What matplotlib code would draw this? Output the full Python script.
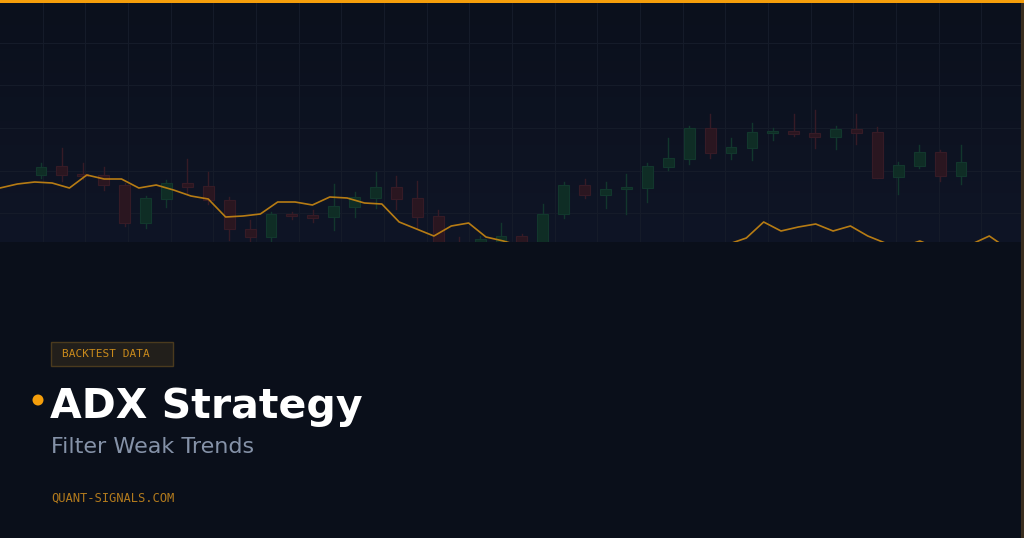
import numpy as np
import matplotlib.pyplot as plt
from matplotlib.patches import Rectangle, Ellipse
from matplotlib.colors import LinearSegmentedColormap

# Candle data (price units)
opens  = [125, 134, 126, 125, 115, 77, 101, 117, 114, 100, 71, 63, 86, 85, 83, 93, 102, 113, 102, 84,
          55, 50, 52, 64, 55, 86, 115, 105, 111, 112, 133, 141, 172, 147, 152, 167, 169, 167, 163, 171,
          168, 123, 134, 148, 124]
closes = [133, 125, 124, 115, 77, 102, 117, 113, 100, 71, 63, 86, 84, 82, 94, 103, 113, 101, 83, 50,
          40, 61, 64, 52, 86, 115, 105, 111, 113, 134, 142, 172, 147, 153, 168, 169, 166, 163, 171, 167,
          122, 135, 148, 124, 138]
highs  = [137, 152, 137, 133, 117, 104, 120, 141, 128, 103, 80, 88, 88, 90, 116, 108, 128, 124, 119, 90,
          63, 64, 77, 66, 96, 118, 121, 118, 126, 137, 162, 174, 186, 162, 177, 172, 186, 190, 174, 186,
          173, 138, 155, 150, 155]
lows   = [122, 119, 121, 110, 74, 72, 93, 107, 96, 60, 58, 59, 81, 78, 70, 83, 92, 91, 72, 45,
          35, 44, 48, 48, 50, 82, 102, 92, 86, 98, 130, 136, 142, 141, 140, 160, 164, 152, 151, 156,
          122, 106, 132, 119, 116]

# ADX-style line overlay
adx = [112, 116, 118, 117, 112, 125, 121, 121, 112, 115, 110, 104, 101, 83, 84, 86, 98, 98, 95, 103,
       102, 97, 96, 78, 71, 64, 74, 77, 63, 59, 54, 48, 42, 38, 34, 32, 35, 38, 42, 46,
       50, 53, 56, 62, 78, 69, 73, 76, 69, 74, 64, 57, 53, 59, 52, 50, 56, 64, 52, 45]

title = "ADX Strategy"
subtitle = "Filter Weak Trends"
badge = "BACKTEST DATA"
site = "QUANT-SIGNALS.COM"

W, H = 1024, 538
chart_h = 242
fig = plt.figure(figsize=(W / 100, H / 100), dpi=100)
fig.patch.set_facecolor('#0a0f1a')

def fx(px):
    return px / W

def fy(py):
    return 1 - py / H

# background gradient + grid
bg = fig.add_axes([0, fy(chart_h), 1, chart_h / H])
grad = np.linspace(0, 1, 256).reshape(-1, 1)
cmap = LinearSegmentedColormap.from_list('bgc', ['#0b101c', '#0f1526'])
bg.imshow(grad, aspect='auto', cmap=cmap, extent=[0, 24, chart_h / (W / 24), 0])
bg.set_xlim(0, 24)
bg.set_ylim(chart_h / (W / 24), 0)
for gx in range(1, 24):
    bg.axvline(gx, color='#151b29', lw=0.8)
for gy in range(1, 6):
    bg.axhline(gy, color='#151b29', lw=0.8)
bg.axis('off')

# candles
ax = fig.add_axes([0, fy(chart_h), 1, chart_h / H])
ax.patch.set_alpha(0)
step = 20.91
ax.set_xlim(-41 / step, (W - 41) / step)
ax.set_ylim(300 - chart_h, 300)
ax.axis('off')
up_col, dn_col = '#0f2d25', '#2a1620'
up_edge, dn_edge = '#12372d', '#361b26'
for i in range(len(opens)):
    o, c, h, l = opens[i], closes[i], highs[i], lows[i]
    col = up_col if c >= o else dn_col
    ecol = up_edge if c >= o else dn_edge
    ax.plot([i, i], [l, h], color=ecol, lw=1.0, zorder=2)
    ax.add_patch(Rectangle((i - 0.26, min(o, c)), 0.52, max(abs(c - o), 1.2),
                           facecolor=col, edgecolor=ecol, lw=0.8, zorder=3))

# line overlay
ax2 = fig.add_axes([0, fy(chart_h), 1, chart_h / H])
ax2.patch.set_alpha(0)
ax2.set_xlim(0, len(adx) - 1)
ax2.set_ylim(300 - chart_h, 300)
ax2.axis('off')
ax2.plot(range(len(adx)), adx, color='#c98712', lw=1.2, alpha=0.9, zorder=4)

# frame accents
fig.patches.append(Rectangle((0, fy(3)), 1, 3 / H, transform=fig.transFigure,
                             facecolor='#f59e0b', edgecolor='none', zorder=10))
fig.patches.append(Rectangle((fx(W - 3), 0), 3 / W, fy(3), transform=fig.transFigure,
                             facecolor='#3a2e1f', edgecolor='none', zorder=10))

# badge
fig.patches.append(Rectangle((fx(51), fy(366)), fx(122), 24 / H, transform=fig.transFigure,
                             facecolor='#221f1b', edgecolor='#4a3a1e', lw=1.0, zorder=5))
fig.text(fx(62), fy(354), badge, color='#c98a1c', fontsize=8, family='DejaVu Sans Mono',
         va='center', ha='left', zorder=6)

# title
fig.patches.append(Ellipse((fx(38), fy(400)), 11 / W, 11 / H, transform=fig.transFigure,
                           facecolor='#f59e0b', edgecolor='none', zorder=6))
fig.text(fx(50), fy(418), title, color='#ffffff', fontsize=29.5, fontweight='bold',
         family='DejaVu Sans', va='baseline', ha='left')
fig.text(fx(51), fy(453), subtitle, color='#8592a8', fontsize=16,
         family='DejaVu Sans', va='baseline', ha='left')
fig.text(fx(51), fy(502), site, color='#b27a1d', fontsize=8.7, family='DejaVu Sans Mono',
         va='baseline', ha='left')

fig.savefig('out.png', dpi=100, facecolor=fig.get_facecolor())
